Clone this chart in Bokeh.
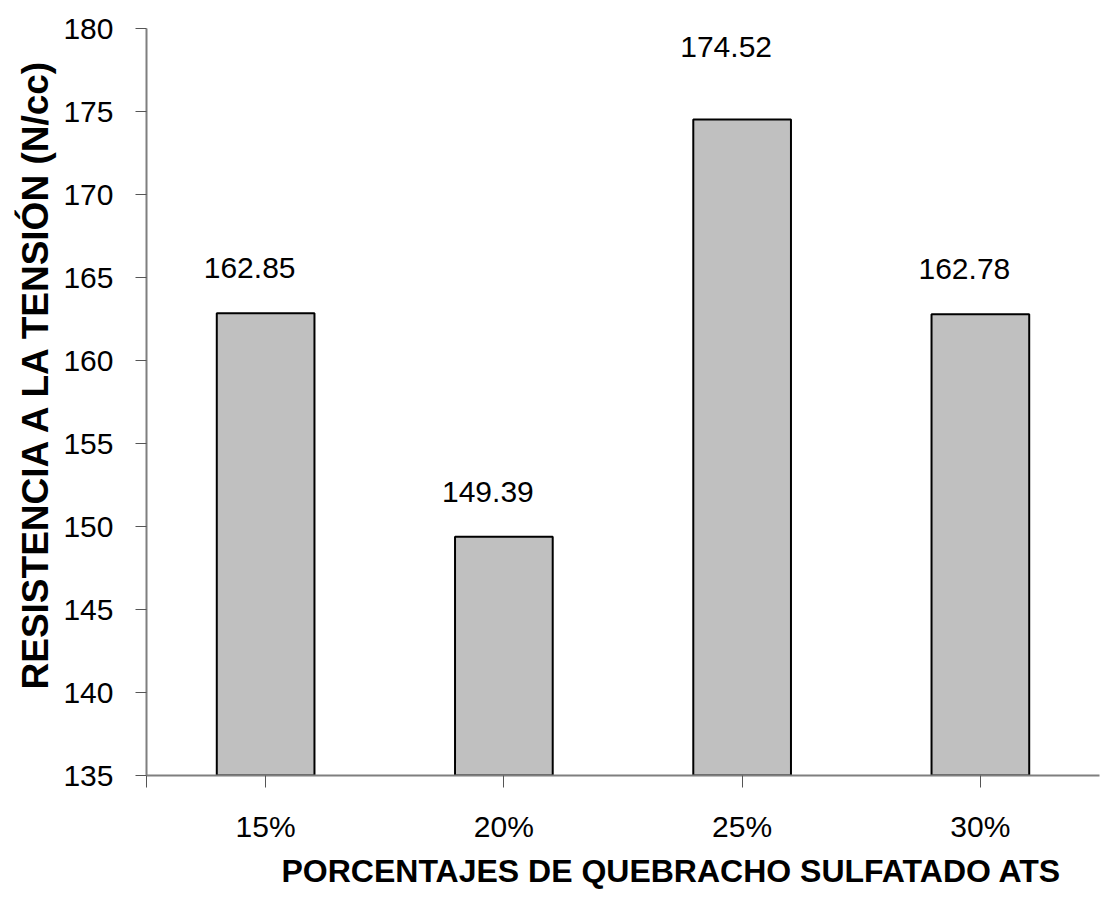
from bokeh.plotting import figure
from bokeh.models import Range1d, FixedTicker, Title, ColumnDataSource
from bokeh.core.properties import value
from bokeh.embed import file_html
from bokeh.resources import INLINE

# Tensile strength by percentage of sulfated quebracho (ATS)
categories = ["15%", "20%", "25%", "30%"]
strength = [162.85, 149.39, 174.52, 162.78]
y_ticks = [135, 140, 145, 150, 155, 160, 165, 170, 175, 180]

FONT = "Liberation Sans"

# per-label nudges (pixels) for the value annotations
label_dx = [-16, -16, -16, -16]
label_dy = [-45, -45, -72, -45]

xs = list(range(len(categories)))
src = ColumnDataSource(dict(
    x=xs,
    top=strength,
    label=[f"{v:.2f}" for v in strength],
    dx=label_dx,
    dy=label_dy,
))

p = figure(
    width=1101, height=902,
    x_range=Range1d(-0.5, 3.5), y_range=Range1d(135, 180),
    output_backend="svg", toolbar_location=None,
    min_border_left=146, min_border_right=2,
    min_border_top=28, min_border_bottom=127,
)
p.outline_line_color = None
p.xgrid.visible = False
p.ygrid.visible = False
p.background_fill_color = "white"

p.vbar(x="x", top="top", bottom=135, width=0.41, source=src,
       fill_color="#C0C0C0", line_color="black", line_width=2)

p.text(x="x", y="top", text="label", source=src,
       text_font=value(FONT), text_font_size="30px", text_color="black",
       text_align="center", text_baseline="alphabetic",
       x_offset="dx", y_offset="dy")

# y axis
ya = p.yaxis[0]
ya.ticker = FixedTicker(ticks=y_ticks)
ya.minor_tick_line_color = None
ya.major_tick_in = 0
ya.major_tick_out = 11
ya.major_tick_line_color = "#555555"
ya.axis_line_color = "#7f7f7f"
ya.axis_line_width = 2
ya.major_label_text_font = FONT
ya.major_label_text_font_size = "30px"
ya.major_label_text_color = "black"
ya.major_label_standoff = 22

# x axis
xa = p.xaxis[0]
xa.ticker = FixedTicker(ticks=[-0.5] + xs)
overrides = {-0.5: ""}
for i, c in enumerate(categories):
    overrides[i] = c
xa.major_label_overrides = overrides
xa.minor_tick_line_color = None
xa.major_tick_in = 0
xa.major_tick_out = 12
xa.major_tick_line_color = "#555555"
xa.axis_line_color = "#7f7f7f"
xa.axis_line_width = 2
xa.major_label_text_font = FONT
xa.major_label_text_font_size = "30px"
xa.major_label_text_color = "black"
xa.major_label_standoff = 22

tx = Title(text="PORCENTAJES DE QUEBRACHO SULFATADO ATS", align="left", offset=135,
           text_font=FONT, text_font_size="32px", text_font_style="bold",
           text_color="black")
p.add_layout(tx, "below")

ty = Title(text="RESISTENCIA A LA TENSIÓN (N/cc)", align="left", offset=86,
           text_font=FONT, text_font_size="37px", text_font_style="bold",
           text_color="black")
p.add_layout(ty, "left")

open("out.html", "w").write(file_html(p, INLINE))
